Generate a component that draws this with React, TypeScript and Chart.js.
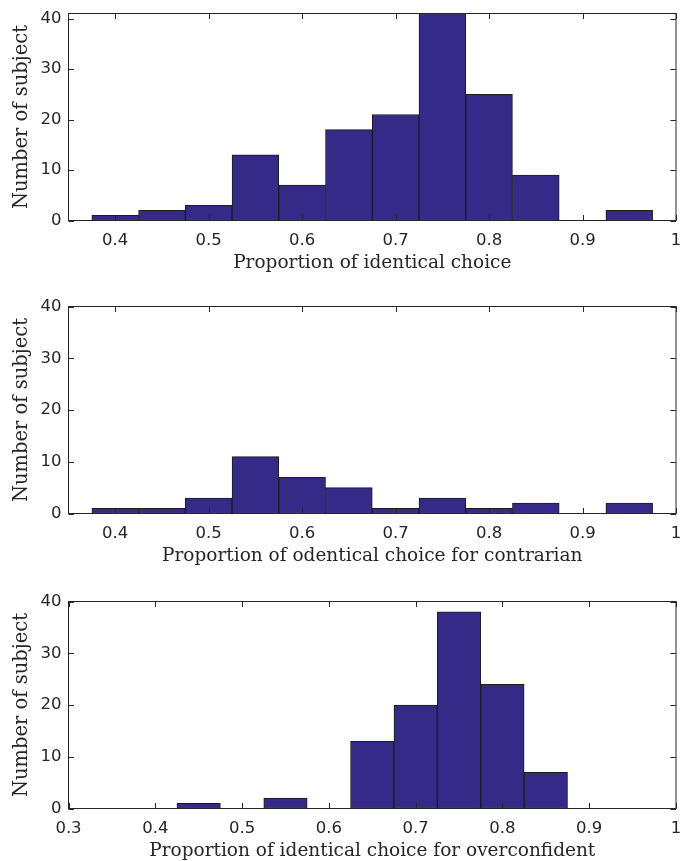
import React, { useEffect, useRef } from "react";
import { Chart, registerables } from "chart.js";

Chart.register(...registerables);

// ---- Data ----
const binCenters = [0.4, 0.45, 0.5, 0.55, 0.6, 0.65, 0.7, 0.75, 0.8, 0.85, 0.9, 0.95];
const countsIdentical = [1, 2, 3, 13, 7, 18, 21, 41, 25, 9, 0, 2];
const countsContrarian = [1, 1, 3, 11, 7, 5, 1, 3, 1, 2, 0, 2];
const countsOverconfident = [0, 1, 0, 2, 0, 13, 20, 38, 24, 7, 0, 0];

const xTicksA = [0.4, 0.5, 0.6, 0.7, 0.8, 0.9, 1];
const xTicksB = [0.3, 0.4, 0.5, 0.6, 0.7, 0.8, 0.9, 1];
const yTicks = [0, 10, 20, 30, 40];

const yTitle = "Number of subject";
const xTitle1 = "Proportion of identical choice";
const xTitle2 = "Proportion of odentical choice for contrarian";
const xTitle3 = "Proportion of identical choice for overconfident";

const BAR_COLOR = "#352a87";
const EDGE_COLOR = "#1c1c1c";
const AXIS_COLOR = "#262626";
const TICK_LEN = 5.5;

const CANVAS_W = 680;
const CANVAS_H = 290;

const boxPlugin = {
  id: "matlabBox",
  afterDatasetsDraw(chart: any) {
    const { ctx, chartArea, scales } = chart;
    const { left, right, top, bottom } = chartArea;
    const x = scales.x;
    const y = scales.y;
    ctx.save();
    ctx.strokeStyle = AXIS_COLOR;
    ctx.lineWidth = 1;
    ctx.strokeRect(left, top, right - left, bottom - top);
    ctx.beginPath();
    x.ticks.forEach((t: any) => {
      const px = Math.round(x.getPixelForValue(t.value)) + 0.5;
      ctx.moveTo(px, bottom);
      ctx.lineTo(px, bottom - TICK_LEN);
      ctx.moveTo(px, top);
      ctx.lineTo(px, top + TICK_LEN);
    });
    y.ticks.forEach((t: any) => {
      const py = Math.round(y.getPixelForValue(t.value)) + 0.5;
      ctx.moveTo(left, py);
      ctx.lineTo(left + TICK_LEN, py);
      ctx.moveTo(right, py);
      ctx.lineTo(right - TICK_LEN, py);
    });
    ctx.stroke();
    ctx.restore();
  },
};

type PanelProps = {
  counts: number[];
  xMin: number;
  xMax: number;
  yMax: number;
  xTicks: number[];
  xTitle: string;
  top: number;
};

function Panel({ counts, xMin, xMax, yMax, xTicks, xTitle, top }: PanelProps) {
  const ref = useRef<HTMLCanvasElement | null>(null);

  useEffect(() => {
    if (!ref.current) return;
    const data = binCenters.map((c, i) => ({ x: c, y: counts[i] }));
    const chart = new Chart(ref.current, {
      type: "bar",
      data: {
        datasets: [
          {
            data: data as any,
            backgroundColor: BAR_COLOR,
            borderColor: EDGE_COLOR,
            borderWidth: (c: any) => (c.raw && c.raw.y > 0 ? 1 : 0),
            borderSkipped: false,
            barPercentage: 1,
            categoryPercentage: 1,
          },
        ],
      },
      options: {
        animation: false,
        responsive: false,
        devicePixelRatio: 1,
        layout: { padding: { top: 23.5, right: 4, left: 0, bottom: 0 } },
        plugins: {
          legend: { display: false },
          tooltip: { enabled: false },
          title: { display: false },
        },
        scales: {
          x: {
            type: "linear",
            min: xMin,
            max: xMax,
            offset: false,
            grid: { display: false, drawTicks: false },
            border: { display: false },
            afterBuildTicks: (scale: any) => {
              scale.ticks = xTicks.map((v) => ({ value: v }));
            },
            afterFit: (scale: any) => {
              scale.height = CANVAS_H - 230.5;
              scale.paddingLeft = 0;
              scale.paddingRight = 0;
            },
            ticks: {
              autoSkip: false,
              maxRotation: 0,
              padding: 10,
              color: AXIS_COLOR,
              font: { family: "'DejaVu Sans', sans-serif", size: 16.5 },
              callback: (v: any) => String(parseFloat(Number(v).toFixed(2))),
            },
            title: {
              display: true,
              text: xTitle,
              color: AXIS_COLOR,
              font: { family: "'DejaVu Serif', serif", size: 18.5, lineHeight: 1.2 },
              padding: { top: 0, bottom: 5.9 },
            },
          },
          y: {
            type: "linear",
            min: 0,
            max: yMax,
            grid: { display: false, drawTicks: false },
            border: { display: false },
            afterBuildTicks: (scale: any) => {
              scale.ticks = yTicks.map((v) => ({ value: v }));
            },
            afterFit: (scale: any) => {
              scale.width = 68.5;
              scale.paddingTop = 0;
              scale.paddingBottom = 0;
            },
            ticks: {
              padding: 7,
              color: AXIS_COLOR,
              font: { family: "'DejaVu Sans', sans-serif", size: 16.5 },
              callback: (v: any) => String(v),
            },
            title: {
              display: true,
              text: yTitle,
              color: AXIS_COLOR,
              font: { family: "'DejaVu Serif', serif", size: 19.5, lineHeight: 1.2 },
              padding: { top: 10.5, bottom: 0 },
            },
          },
        },
      } as any,
      plugins: [boxPlugin],
    });
    return () => chart.destroy();
  }, [counts, xMin, xMax, yMax, xTicks, xTitle]);

  return (
    <canvas
      ref={ref}
      width={CANVAS_W}
      height={CANVAS_H}
      style={{ position: "absolute", left: 0, top, width: CANVAS_W, height: CANVAS_H }}
    />
  );
}

export default function App() {
  return (
    <div
      style={{
        position: "absolute",
        left: 0,
        top: 0,
        width: 680,
        height: 861,
        overflow: "hidden",
        background: "#ffffff",
      }}
    >
      <Panel counts={countsIdentical} xMin={0.35} xMax={1} yMax={41} xTicks={xTicksA} xTitle={xTitle1} top={-10} />
      <Panel counts={countsContrarian} xMin={0.35} xMax={1} yMax={40} xTicks={xTicksA} xTitle={xTitle2} top={283} />
      <Panel counts={countsOverconfident} xMin={0.3} xMax={1} yMax={40} xTicks={xTicksB} xTitle={xTitle3} top={578} />
    </div>
  );
}
